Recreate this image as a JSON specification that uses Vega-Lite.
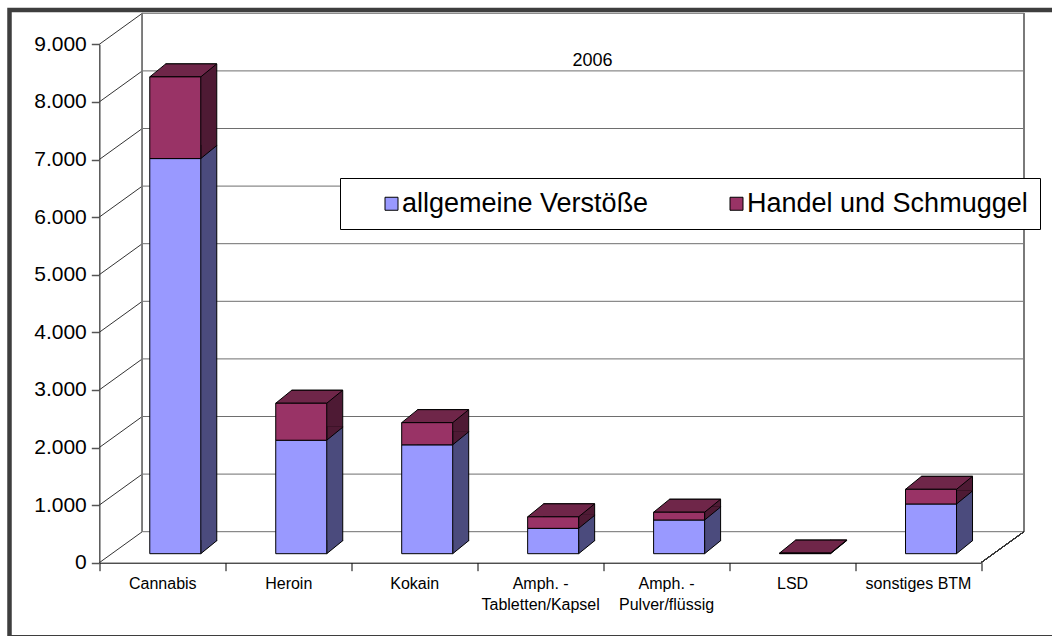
{
  "$schema": "https://vega.github.io/schema/vega-lite/v6.json",
  "width": 1050,
  "height": 627.25,
  "autosize": "none",
  "padding": {"left": 9.5, "top": 10, "right": -7.5, "bottom": -1.25},
  "background": "white",
  "config": {
    "view": {"stroke": "#3e3e3e", "strokeWidth": 4.5},
    "font": "Liberation Sans"
  },
  "title": {
    "text": "2006",
    "anchor": "start",
    "frame": "group",
    "orient": "top",
    "offset": 0,
    "dx": 583,
    "dy": 74.2,
    "baseline": "alphabetic",
    "align": "center",
    "fontSize": 18,
    "fontWeight": "normal",
    "font": "Liberation Sans",
    "color": "black"
  },
  "datasets": {
    "bars": [
      {"Kategorie": "Cannabis", "Art": "allgemeine Verstöße", "Anzahl": 6860},
      {"Kategorie": "Heroin", "Art": "allgemeine Verstöße", "Anzahl": 1970},
      {"Kategorie": "Kokain", "Art": "allgemeine Verstöße", "Anzahl": 1890},
      {"Kategorie": "Amph. - Tabletten/Kapsel", "Art": "allgemeine Verstöße", "Anzahl": 440},
      {"Kategorie": "Amph. - Pulver/flüssig", "Art": "allgemeine Verstöße", "Anzahl": 585},
      {"Kategorie": "LSD", "Art": "allgemeine Verstöße", "Anzahl": 5},
      {"Kategorie": "sonstiges BTM", "Art": "allgemeine Verstöße", "Anzahl": 863},
      {"Kategorie": "Cannabis", "Art": "Handel und Schmuggel", "Anzahl": 1418},
      {"Kategorie": "Heroin", "Art": "Handel und Schmuggel", "Anzahl": 642},
      {"Kategorie": "Kokain", "Art": "Handel und Schmuggel", "Anzahl": 385},
      {"Kategorie": "Amph. - Tabletten/Kapsel", "Art": "Handel und Schmuggel", "Anzahl": 200},
      {"Kategorie": "Amph. - Pulver/flüssig", "Art": "Handel und Schmuggel", "Anzahl": 135},
      {"Kategorie": "LSD", "Art": "Handel und Schmuggel", "Anzahl": 5},
      {"Kategorie": "sonstiges BTM", "Art": "Handel und Schmuggel", "Anzahl": 255}
    ],
    "grid": [
      {"Wert": 0}, {"Wert": 1000}, {"Wert": 2000}, {"Wert": 3000}, {"Wert": 4000},
      {"Wert": 5000}, {"Wert": 6000}, {"Wert": 7000}, {"Wert": 8000}, {"Wert": 9000}
    ]
  },
  "layer": [
    {
      "data": {"name": "bars"},
      "transform": [
        {"stack": "Anzahl", "groupby": ["Kategorie"], "sort": [{"field": "Art", "order": "descending"}], "as": ["v0", "v1"]}
      ],
      "mark": {"type": "bar", "size": 51, "xOffset": 13, "yOffset": -9, "y2Offset": -9, "stroke": "black", "strokeWidth": 1, "opacity": 0},
      "encoding": {
        "x": {
          "field": "Kategorie", "type": "nominal", "sort": null,
          "scale": {
            "domain": ["Cannabis", "Heroin", "Kokain", "Amph. - Tabletten/Kapsel", "Amph. - Pulver/flüssig", "LSD", "sonstiges BTM"],
            "range": [89.8, 971.5], "paddingInner": 0, "paddingOuter": 0
          },
          "axis": {
            "title": null, "orient": "bottom", "offset": -74.55,
            "domainColor": "black", "domainWidth": 1, "tickColor": "black", "tickWidth": 1,
            "tickSize": 8, "tickBand": "extent", "labelAngle": 0,
            "labelFont": "Liberation Sans", "labelFontSize": 16, "labelColor": "black",
            "labelPadding": 5, "labelLineHeight": 21, "labelLimit": 200,
            "labelExpr": "indexof(datum.label, 'Amph. - ') == 0 ? ['Amph. -', substring(datum.label, 8)] : datum.label"
          }
        },
        "y": {
          "field": "v1", "type": "quantitative",
          "scale": {"domain": [0, 9000], "range": [552.7, 34.3], "nice": false, "zero": true},
          "axis": {
            "title": null, "orient": "left", "offset": -89.8,
            "values": [0, 1000, 2000, 3000, 4000, 5000, 6000, 7000, 8000, 9000],
            "grid": false, "domainColor": "#555555", "domainWidth": 1.5,
            "tickColor": "#555555", "tickWidth": 1.5, "tickSize": 8,
            "labelFont": "Liberation Sans", "labelFontSize": 21, "labelColor": "black", "labelPadding": 5,
            "labelExpr": "replace(format(datum.value, ','), ',', '.')"
          }
        },
        "y2": {"field": "v0"},
        "color": {
          "field": "Art", "type": "nominal",
          "scale": {"domain": ["allgemeine Verstöße", "Handel und Schmuggel"], "range": ["#9999ff", "#993366"]},
          "legend": {
            "title": null, "orient": "none", "legendX": 330.5, "legendY": 168, "direction": "horizontal",
            "strokeColor": "black", "fillColor": "white", "padding": 12,
            "symbolType": "square", "symbolSize": 169, "symbolStrokeColor": "black", "symbolStrokeWidth": 1, "symbolOpacity": 1,
            "symbolOffset": 26, "labelOffset": -3, "columnPadding": 48,
            "labelFont": "Liberation Sans", "labelFontSize": 27, "labelColor": "black", "labelLimit": 500
          }
        }
      }
    },
    {
      "data": {"name": "grid"},
      "mark": {"type": "rule", "xOffset": 43, "x2Offset": 43, "yOffset": -31, "color": "#6e6e6e", "strokeWidth": 1},
      "encoding": {
        "x": {"datum": "Cannabis", "type": "nominal", "bandPosition": 0},
        "x2": {"datum": "sonstiges BTM", "bandPosition": 1},
        "y": {"field": "Wert", "type": "quantitative"}
      }
    },
    {
      "data": {"name": "grid"},
      "mark": {"type": "point", "shape": "M0,0L43,-31", "size": 4, "filled": false, "stroke": "#333333", "strokeWidth": 1, "opacity": 1},
      "encoding": {
        "x": {"datum": "Cannabis", "type": "nominal", "bandPosition": 0},
        "y": {"field": "Wert", "type": "quantitative"}
      }
    },
    {
      "data": {"name": "grid"},
      "mark": {"type": "rule", "xOffset": 43, "yOffset": -31, "y2Offset": -31, "color": "#7a7a7a", "strokeWidth": 1},
      "encoding": {
        "x": {"datum": "Cannabis", "type": "nominal", "bandPosition": 0},
        "y": {"datum": 0, "type": "quantitative"},
        "y2": {"datum": 9000}
      }
    },
    {
      "data": {"name": "grid"},
      "mark": {"type": "rule", "xOffset": 43, "yOffset": -31, "y2Offset": -31, "color": "#7a7a7a", "strokeWidth": 1},
      "encoding": {
        "x": {"datum": "sonstiges BTM", "type": "nominal", "bandPosition": 1},
        "y": {"datum": 0, "type": "quantitative"},
        "y2": {"datum": 9000}
      }
    },
    {
      "data": {"name": "grid"},
      "mark": {"type": "point", "shape": "M0,0L43,-31", "size": 4, "filled": false, "stroke": "#333333", "strokeWidth": 1, "opacity": 1},
      "encoding": {
        "x": {"datum": "sonstiges BTM", "type": "nominal", "bandPosition": 1},
        "y": {"datum": 0, "type": "quantitative"}
      }
    },
    {
      "data": {"name": "bars"},
      "transform": [
        {"stack": "Anzahl", "groupby": ["Kategorie"], "sort": [{"field": "Art", "order": "descending"}], "as": ["v0", "v1"]}
      ],
      "layer": [
        {
          "mark": {"type": "bar", "size": 51, "xOffset": 29, "yOffset": -22, "y2Offset": -22, "stroke": "black", "strokeWidth": 1},
          "encoding": {
            "x": {"field": "Kategorie", "type": "nominal"},
            "y": {"field": "v1", "type": "quantitative"},
            "y2": {"field": "v0"},
            "fill": {"field": "Art", "type": "nominal", "legend": null,
              "scale": {"domain": ["allgemeine Verstöße", "Handel und Schmuggel"], "range": ["#4b4b7d", "#4e1a34"]}}
          }
        },
        {
          "mark": {"type": "point", "shape": "M25.5,-13.6L25.5,0L41.5,-13L41.5,-13.6", "size": 4, "filled": true, "stroke": "black", "strokeWidth": 1, "opacity": 1, "xOffset": 13, "yOffset": -9},
          "encoding": {
            "x": {"field": "Kategorie", "type": "nominal"},
            "y": {"field": "v0", "type": "quantitative"},
            "fill": {"field": "Art", "type": "nominal", "legend": null}
          }
        },
        {
          "transform": [{"filter": "datum.Art == 'Handel und Schmuggel'"}],
          "mark": {"type": "point", "shape": "M-25.5,0L25.5,0L41.5,-13L-9.5,-13Z", "size": 4, "filled": true, "fill": "#6f2649", "stroke": "black", "strokeWidth": 1, "opacity": 1, "xOffset": 13, "yOffset": -9},
          "encoding": {
            "x": {"field": "Kategorie", "type": "nominal"},
            "y": {"field": "v1", "type": "quantitative"}
          }
        },
        {
          "mark": {"type": "bar", "size": 51, "xOffset": 13, "yOffset": -9, "y2Offset": -9, "stroke": "black", "strokeWidth": 1},
          "encoding": {
            "x": {"field": "Kategorie", "type": "nominal"},
            "y": {"field": "v1", "type": "quantitative"},
            "y2": {"field": "v0"},
            "color": {"field": "Art", "type": "nominal"}
          }
        }
      ]
    }
  ]
}
